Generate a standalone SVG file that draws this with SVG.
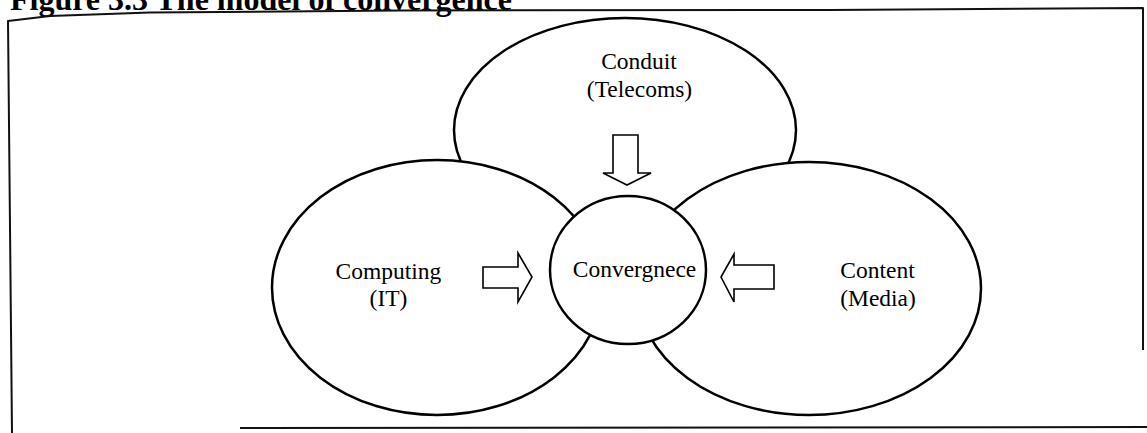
<svg xmlns="http://www.w3.org/2000/svg" width="1147" height="433" viewBox="0 0 1147 433">
  <style>
    .bg { fill: #ffffff; }
    .frame { fill: none; stroke: #111; stroke-width: 2; stroke-linejoin: round; }
    .shape { fill: #ffffff; stroke: #000; stroke-width: 2.5; }
    .arrow { fill: #ffffff; stroke: #000; stroke-width: 1.6; stroke-linejoin: miter; }
    .label { font-family: "Liberation Serif", "Times New Roman", serif; font-size: 23.5px; fill: #000; text-anchor: middle; }
    .title { font-family: "Liberation Serif", "Times New Roman", serif; font-size: 32px; font-weight: bold; fill: #000; }
  </style>

  <rect class="bg" x="0" y="0" width="1147" height="433"/>

  <!-- heading, cropped at the top edge -->
  <text class="title" x="10" y="10">Figure 3.3 The model of convergence</text>

  <!-- outer frame -->
  <g id="frame">
    <polyline class="frame" points="12,433 8,21 50,16 150,12.5 400,10.5 830,10 1143,8 1143,350"/>
    <line class="frame" x1="240" y1="428" x2="1147" y2="427"/>
  </g>

  <!-- Conduit (Telecoms) -->
  <g id="conduit">
    <ellipse class="shape" cx="625" cy="130" rx="171" ry="112"/>
    <text class="label" x="639" y="69">Conduit</text>
    <text class="label" x="639.5" y="97">(Telecoms)</text>
  </g>

  <!-- Computing (IT) -->
  <g id="computing">
    <ellipse class="shape" cx="437" cy="287.5" rx="165" ry="127.5"/>
    <text class="label" x="388.5" y="279">Computing</text>
    <text class="label" x="388.5" y="306">(IT)</text>
  </g>

  <!-- Content (Media) -->
  <g id="content">
    <ellipse class="shape" cx="809" cy="288.5" rx="172" ry="126.5"/>
    <text class="label" x="877.5" y="278">Content</text>
    <text class="label" x="878" y="306">(Media)</text>
  </g>

  <!-- Convergence hub -->
  <g id="convergence">
    <ellipse class="shape" cx="628" cy="270" rx="78" ry="74"/>
    <text class="label" x="634.5" y="277">Convergnece</text>
  </g>

  <!-- block arrows pointing into the hub -->
  <g id="connectors">
    <polygon class="arrow" points="613,135 638,135 638,173 651,173 627,185 603,173 613,173"/>
    <polygon class="arrow" points="483,267 518,267 518,253 532,277 518,302 518,288 483,288"/>
    <polygon class="arrow" points="774,265 734,265 734,254 721,277 734,302 734,289 774,289"/>
  </g>
</svg>
